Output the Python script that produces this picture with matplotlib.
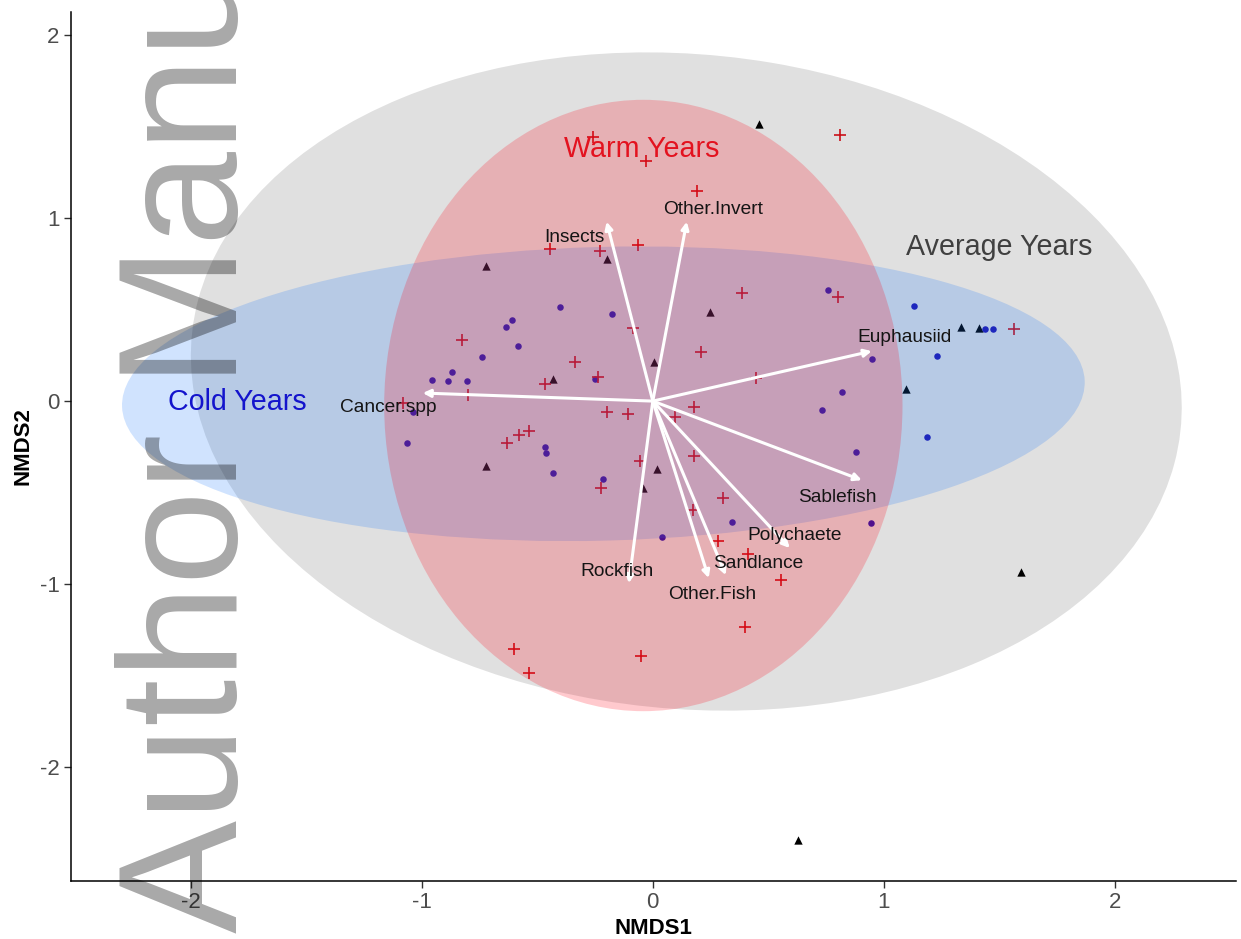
import matplotlib
matplotlib.use("Agg")
import matplotlib.pyplot as plt
from matplotlib.patches import Ellipse

plt.rcParams['font.family'] = ['Liberation Sans', 'DejaVu Sans']
plt.rcParams['axes.unicode_minus'] = False

# NMDS site scores, grouped by year type
avg_x = [0.459, -0.723, -0.199, 0.247, 0.004, -0.433, -0.723, 0.017, -0.043,
         1.095, 1.333, 1.411, 1.593, 0.628]
avg_y = [1.514, 0.738, 0.776, 0.486, 0.213, 0.120, -0.355, -0.372, -0.475,
         0.066, 0.404, 0.399, -0.934, -2.399]

cold_x = [-0.610, -0.636, -0.584, -0.740, -0.870, -0.957, -0.887, -0.805, -1.039,
          -1.065, -0.403, -0.177, -0.251, 0.758, 0.818, 0.732, -0.468, -0.463,
          -0.433, -0.216, 0.039, 0.342, 1.130, 1.472, 1.437, 1.229, 0.948,
          1.186, 0.879, 0.944]
cold_y = [0.443, 0.404, 0.300, 0.240, 0.158, 0.115, 0.109, 0.109, -0.060,
          -0.230, 0.514, 0.475, 0.120, 0.607, 0.049, -0.049, -0.250, -0.284,
          -0.393, -0.426, -0.743, -0.661, 0.519, 0.393, 0.393, 0.246, 0.230,
          -0.197, -0.279, -0.667]

warm_x = [-0.260, -0.030, 0.190, 0.810, -0.446, -0.229, -0.065, 0.385, 0.800,
          -0.087, -0.827, 0.208, -0.338, -0.238, -0.468, -0.800, 0.446, -1.082,
          -0.199, -0.108, 0.177, 0.095, -0.537, -0.580, -0.632, -0.056, 0.177,
          -0.225, 0.173, 0.303, 0.281, 0.411, 0.554, 0.398, -0.602, -0.537,
          -0.052, 1.563]
warm_y = [1.443, 1.311, 1.148, 1.454, 0.830, 0.820, 0.852, 0.590, 0.568,
          0.399, 0.333, 0.268, 0.213, 0.131, 0.093, 0.033, 0.126, -0.010,
          -0.060, -0.071, -0.033, -0.087, -0.164, -0.186, -0.230, -0.328, -0.300,
          -0.475, -0.596, -0.530, -0.765, -0.836, -0.978, -1.235, -1.355, -1.486,
          -1.393, 0.393]

# Diet item vectors (envfit) and their label anchors
species = ["Cancer.spp", "Insects", "Other.Invert", "Euphausiid", "Sablefish",
           "Polychaete", "Sandlance", "Other.Fish", "Rockfish"]
vec_x = [-0.996, -0.200, 0.147, 0.948, 0.905, 0.593, 0.316, 0.242, -0.104]
vec_y = [0.044, 0.980, 0.980, 0.273, -0.432, -0.803, -0.951, -0.967, -0.995]
lab_x = [-1.143, -0.338, 0.260, 1.091, 0.797, 0.615, 0.455, 0.255, -0.156]
lab_y = [-0.033, 0.896, 1.049, 0.350, -0.525, -0.732, -0.885, -1.055, -0.929]

# 95% ellipses per group: centre, full width, full height, angle
groups = ["Average Years", "Cold Years", "Warm Years"]
ell_cx = [0.145, -0.214, -0.041]
ell_cy = [0.107, 0.040, -0.024]
ell_w = [4.32, 4.17, 2.244]
ell_h = [3.56, 1.604, 3.34]
ell_ang = [-12.0, 2.0, 0.0]
ell_fill = [(0, 0, 0, 0.12), (20/255, 115/255, 250/255, 0.20), (1.0, 0.0, 20/255, 0.21)]

group_lab_x = [1.498, -1.80, -0.048]
group_lab_y = [0.842, -0.005, 1.377]
group_lab_col = ["#404040", "#1414cc", "#e3121f"]

fig = plt.figure(figsize=(12.41, 9.39), dpi=100)
ax = fig.add_axes([0.057, 0.0621, 0.939, 0.925])

ax.scatter(avg_x, avg_y, marker='^', s=36, color='black', linewidths=0, zorder=1)
ax.scatter(cold_x, cold_y, marker='o', s=22, color='#2518c7', linewidths=0, zorder=1)
ax.scatter(warm_x, warm_y, marker='+', s=85, color='#e6141e', linewidths=1.2, zorder=1)

for cx, cy, w, h, a, fc in zip(ell_cx, ell_cy, ell_w, ell_h, ell_ang, ell_fill):
    ax.add_patch(Ellipse((cx, cy), w, h, angle=a, facecolor=fc, edgecolor='none', zorder=2))

for vx, vy in zip(vec_x, vec_y):
    ax.annotate("", xy=(vx, vy), xytext=(0, 0),
                arrowprops=dict(arrowstyle='-|>', color='white', lw=2.2,
                                mutation_scale=11, shrinkA=0, shrinkB=0),
                zorder=5)

for name, lx, ly in zip(species, lab_x, lab_y):
    ax.text(lx, ly, name, fontsize=13.8, color='#141414', ha='center', va='center', zorder=6)

for name, gx, gy, gc in zip(groups, group_lab_x, group_lab_y, group_lab_col):
    ax.text(gx, gy, name, fontsize=20.6, color=gc, ha='center', va='center', zorder=6)

ax.set_xlim(-2.52, 2.525)
ax.set_ylim(-2.62, 2.125)
ax.set_xticks([-2, -1, 0, 1, 2])
ax.set_yticks([-2, -1, 0, 1, 2])
ax.tick_params(length=5, width=1.0, color='#333333', labelsize=16,
               labelcolor='#4d4d4d', pad=3)
for side in ['top', 'right']:
    ax.spines[side].set_visible(False)
for side in ['left', 'bottom']:
    ax.spines[side].set_linewidth(1.1)
ax.set_xlabel("NMDS1", fontsize=16, fontweight='bold', labelpad=4)
ax.set_ylabel("NMDS2", fontsize=16, fontweight='bold', labelpad=4.5)

fig.text(237/1241, 6/939, "Author Manuscript", rotation=90, rotation_mode='anchor',
         ha='left', va='baseline', fontsize=122, color='black', alpha=0.34,
         family='Liberation Sans', zorder=10)

fig.savefig("out.png", dpi=100)
